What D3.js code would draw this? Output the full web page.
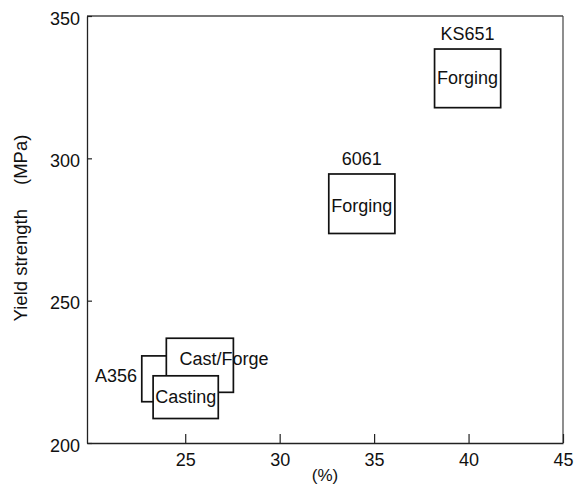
<!DOCTYPE html>
<html>
<head>
<meta charset="utf-8">
<script src="https://cdn.jsdelivr.net/npm/d3@7"></script>
<style>
  body { margin: 0; background: #fff; }
  text { font-family: "Liberation Sans", Arial, sans-serif; }
</style>
</head>
<body>
<script>
// boxes: x range (%), y range (MPa), text inside
const boxText = ["", "Cast/Forge", "Casting", "Forging", "Forging"];
const xLow = [22.7, 24.0, 23.3, 32.6, 38.2];
const xHigh = [26.0, 27.55, 26.75, 36.1, 41.7];
const yLow = [214.5, 217.8, 208.6, 273.6, 317.8];
const yHigh = [230.6, 236.8, 223.6, 294.5, 338.4];
// baseline of the text inside each box (data units)
const textX = [0, 27.05, 25.03, 34.35, 39.95];
const textY = [0, 227.5, 214.1, 281.1, 326.1];

// alloy names
const alloys = ["A356", "6061", "KS651"];
const alloyX = [22.45, 34.35, 39.95];
const alloyY = [221.3, 297.5, 341.5];

const xTicks = [25, 30, 35, 40, 45];
const yTicks = [200, 250, 300, 350];

const width = 582, height = 486;
const margin = { top: 16, right: 19, bottom: 43, left: 87 };

const svg = d3.select("body").append("svg")
    .attr("width", width)
    .attr("height", height);

const x = d3.scaleLinear().domain([19.8, 45]).range([margin.left, width - margin.right]);
const y = d3.scaleLinear().domain([200, 350]).range([height - margin.bottom, margin.top]);

// frame: top and right
svg.append("line")
    .attr("x1", x(19.8)).attr("x2", x(45))
    .attr("y1", y(350)).attr("y2", y(350))
    .attr("stroke", "#777").attr("stroke-width", 2);
svg.append("line")
    .attr("x1", x(45)).attr("x2", x(45))
    .attr("y1", y(350)).attr("y2", y(200))
    .attr("stroke", "#444").attr("stroke-width", 1.2);

const xAxis = svg.append("g")
    .attr("transform", `translate(0,${y(200)})`)
    .call(d3.axisBottom(x).tickValues(xTicks).tickSize(-9).tickPadding(10).tickSizeOuter(0));
const yAxis = svg.append("g")
    .attr("transform", `translate(${x(19.8)},0)`)
    .call(d3.axisLeft(y).tickValues(yTicks).tickSize(-5).tickPadding(7).tickSizeOuter(0));

[xAxis, yAxis].forEach(g => {
    g.select(".domain").attr("stroke", "#222").attr("stroke-width", 1.3);
    g.selectAll(".tick line").attr("stroke", "#222").attr("stroke-width", 1.2);
    g.selectAll(".tick text")
        .attr("font-size", "18px")
        .attr("fill", "#111")
        .style("font-family", "'Liberation Sans', Arial, sans-serif");
});
yAxis.selectAll(".tick text").attr("dy", "0.45em");

// boxes
const idx = d3.range(xLow.length);
svg.append("g").selectAll("rect")
    .data(idx)
    .enter()
    .append("rect")
    .attr("x", i => x(xLow[i]))
    .attr("y", i => y(yHigh[i]))
    .attr("width", i => x(xHigh[i]) - x(xLow[i]))
    .attr("height", i => y(yLow[i]) - y(yHigh[i]))
    .attr("fill", "#fff")
    .attr("stroke", "#111")
    .attr("stroke-width", 1.7);

svg.append("g").selectAll("text")
    .data(idx.filter(i => boxText[i]))
    .enter()
    .append("text")
    .attr("x", i => x(textX[i]))
    .attr("y", i => y(textY[i]))
    .attr("text-anchor", "middle")
    .attr("font-size", "18px")
    .attr("fill", "#111")
    .text(i => boxText[i]);

svg.append("g").selectAll("text")
    .data(alloys)
    .enter()
    .append("text")
    .attr("x", (d, i) => x(alloyX[i]))
    .attr("y", (d, i) => y(alloyY[i]))
    .attr("text-anchor", (d, i) => i === 0 ? "end" : "middle")
    .attr("font-size", "18px")
    .attr("fill", "#111")
    .text(d => d);

// axis titles
svg.append("text")
    .attr("x", (x(19.8) + x(45)) / 2)
    .attr("y", 481)
    .attr("text-anchor", "middle")
    .attr("font-size", "17px")
    .attr("fill", "#111")
    .text("(%)");

const yTitle = svg.append("text")
    .attr("transform", "translate(27,228) rotate(-90)")
    .attr("text-anchor", "middle")
    .attr("font-size", "18.5px")
    .attr("fill", "#111");
yTitle.append("tspan").text("Yield strength");
yTitle.append("tspan").attr("dx", 24).text("(MPa)");
</script>
</body>
</html>
